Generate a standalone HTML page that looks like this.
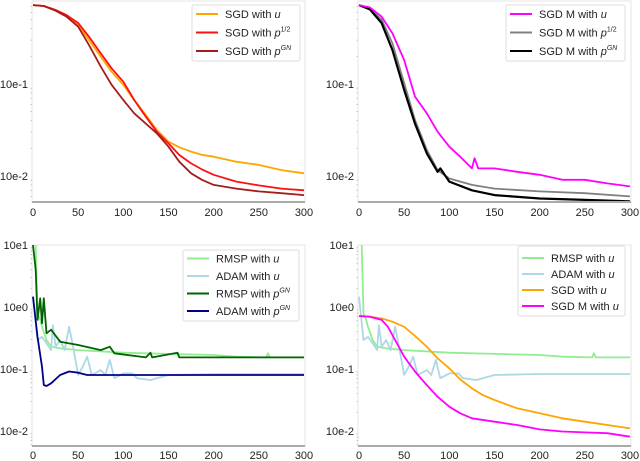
<!DOCTYPE html>
<html><head><meta charset="utf-8"><style>
html,body{margin:0;padding:0;background:#fff;}
svg{display:block;font-family:"Liberation Sans","DejaVu Sans",sans-serif;}
</style></head><body>
<svg id="chart" width="640" height="461" viewBox="0 0 640 461"></svg>
<script>
// ---- data ----
const xTicks = [0, 50, 100, 150, 200, 250, 300];
const topTickVals = [0.1, 0.01];
const topTickLabels = ["10e-1", "10e-2"];
const botTickVals = [10, 1, 0.1, 0.01];
const botTickLabels = ["10e1", "10e0", "10e-1", "10e-2"];

const tlSteps = [0,12,25,37,50,62,75,87,100,112,125,137,150,162,175,187,200,225,250,275,300];
const tlSgdU =   [0.72,0.705,0.637,0.548,0.44,0.30,0.198,0.136,0.098,0.067,0.046,0.0316,0.0236,0.0205,0.0184,0.017,0.0162,0.0143,0.0132,0.0116,0.0107];
const tlSgdP12 = [0.72,0.705,0.637,0.562,0.46,0.327,0.215,0.148,0.106,0.067,0.044,0.0303,0.0226,0.0169,0.0137,0.0118,0.0103,0.0087,0.0079,0.0073,0.0070];
const tlSgdGN =  [0.72,0.705,0.627,0.54,0.42,0.265,0.154,0.098,0.067,0.048,0.037,0.0291,0.0208,0.0143,0.0107,0.0091,0.0080,0.0073,0.0068,0.0065,0.0062];

const trMagSteps = [0,12,25,37,50,62,75,87,100,112,125,128,132,150,175,200,225,250,275,300];
const trSgdMU =    [0.72,0.68,0.54,0.356,0.182,0.073,0.048,0.0303,0.0208,0.0162,0.0121,0.0156,0.0121,0.0121,0.0111,0.0103,0.0091,0.0091,0.0083,0.0077];
const trGraySteps = [0,12,25,37,50,62,75,87,100,125,150,200,250,300];
const trSgdMP12 =   [0.72,0.663,0.50,0.277,0.102,0.0406,0.0192,0.0116,0.0094,0.0080,0.0073,0.0068,0.0065,0.0060];
const trBlackSteps = [0,12,25,37,50,62,75,87,90,100,125,150,200,250,300];
const trSgdMGN =     [0.72,0.648,0.46,0.234,0.086,0.037,0.0176,0.0111,0.0121,0.0087,0.0070,0.0062,0.0057,0.0055,0.0053];

const rmspUSteps = [0,3,5,8,10,15,20,30,50,100,150,200,225,258,260,262,300];
const rmspU =      [30,10,0.79,0.62,0.48,0.294,0.229,0.215,0.202,0.183,0.175,0.168,0.158,0.154,0.179,0.154,0.154];
const rmspGNSteps = [0,3,5,8,10,12,15,20,30,50,75,85,90,125,130,132,160,162,300];
const rmspGN =      [10,3.95,0.62,1.38,0.545,1.38,0.376,0.43,0.276,0.244,0.202,0.229,0.179,0.154,0.183,0.154,0.183,0.154,0.154];
const adamUSteps = [0,5,10,15,20,22,25,30,35,40,45,50,55,60,65,75,80,85,90,100,110,115,130,150,200,300];
const adamU =      [1.47,0.294,0.33,0.26,0.202,0.51,0.229,0.294,0.202,0.48,0.202,0.080,0.109,0.158,0.080,0.096,0.080,0.14,0.071,0.085,0.085,0.071,0.0665,0.080,0.083,0.083];
const adamGNSteps = [0,5,10,12,15,20,30,40,50,60,300];
const adamGN =      [1.47,0.33,0.109,0.0552,0.0532,0.0588,0.080,0.091,0.087,0.080,0.080];

const brSgdSteps = [0,12,25,37,50,62,75,87,100,112,125,137,150,175,200,225,250,275,300];
const brSgdU =     [0.716,0.697,0.656,0.58,0.48,0.34,0.229,0.149,0.1025,0.068,0.0488,0.038,0.0316,0.0232,0.0193,0.016,0.0141,0.0125,0.011];
const brMagSteps = [0,12,25,32,40,50,62,75,87,100,112,125,150,175,200,225,250,275,300];
const brSgdMU =    [0.716,0.697,0.62,0.48,0.294,0.158,0.091,0.055,0.0358,0.0247,0.0193,0.016,0.0141,0.0125,0.0106,0.0098,0.0095,0.0092,0.0081];

// ---- drawing ----
const NS = "http://www.w3.org/2000/svg";
const svg = document.getElementById("chart");
function mk(tag, attrs, parent) {
  const e = document.createElementNS(NS, tag);
  for (const k in attrs) e.setAttribute(k, attrs[k]);
  (parent || svg).appendChild(e);
  return e;
}
function makeScales(p) {
  const sx = v => p.x0 + (v / 300) * (p.x1 - p.x0);
  const sy = v => p.yA + (Math.log10(p.vA) - Math.log10(v)) / (Math.log10(p.vA) - Math.log10(p.vB)) * (p.yB - p.yA);
  return {sx, sy};
}
let clipId = 0;
function panel(p, name) {
  const g = mk("g", {});
  
  
  const {sx, sy} = makeScales(p);
  const fr = mk("rect", {x: p.left, y: p.top, width: p.right - p.left, height: p.bottom - p.top, fill: "none", stroke: "#e4e4e4", "stroke-width": 1}, g);
  
  
  const bs = mk("line", {x1: p.left, x2: p.right, y1: p.bottom, y2: p.bottom, stroke: "#aaa", "stroke-width": 2}, g);
  
  
  for (let d = Math.floor(Math.log10(p.vB)) - 1; d <= 1; d++) {
    for (let m = 2; m <= 9; m++) {
      const v = m * Math.pow(10, d);
      const y = sy(v);
      if (y > p.top && y < p.bottom) {
        const t = mk("line", {x1: p.left - 1.5, x2: p.left, y1: y, y2: y, stroke: "#bbb", "stroke-width": 0.8}, g);
        
        
      }
    }
  }
  if (p.yLabels) p.tickVals.forEach((v, i) => {
    const y = sy(v);
    const t = mk("text", {x: p.left - 4, y: y + 4, "text-anchor": "end", "font-size": 11, fill: "#222"}, g);
    t.textContent = p.tickLabels[i];
    
    
  });
  xTicks.forEach(v => {
    const t = mk("text", {x: sx(v), y: p.bottom + p.xlOff, "text-anchor": "middle", "font-size": 11, fill: "#222"}, g);
    t.textContent = v;
    
    
  });
  const cid = "clip" + (clipId++);
  const cp = mk("clipPath", {id: cid}, g);
  mk("rect", {x: p.left, y: p.top, width: p.right - p.left, height: p.bottom - p.top - 1}, cp);
  const lg = mk("g", {"clip-path": "url(#" + cid + ")"}, g);
  p.series.forEach(s => {
    const d = s.steps.map((st, i) => (i ? "L" : "M") + sx(st).toFixed(1) + "," + sy(s.vals[i]).toFixed(1)).join("");
    const path = mk("path", {d, fill: "none", stroke: s.color, "stroke-width": s.w || 1.8, "stroke-linejoin": "round"}, lg);
    
    
  });
  const L = p.legend;
  const box = mk("rect", {x: L.x, y: L.y, width: L.w, height: L.h, rx: 2, fill: "#fff", "fill-opacity": 0.85, stroke: "#ddd"}, g);
  
  
  p.series.slice().sort((a, b) => a.order - b.order).forEach((s, i) => {
    const y = L.y + L.first + i * L.gap;
    const eg = mk("g", {}, g);
    
    
    mk("line", {x1: L.x + 4, x2: L.x + 26, y1: y, y2: y, stroke: s.color, "stroke-width": 2}, eg);
    const t = mk("text", {x: L.x + 33, y: y + 4, "font-size": 11, fill: "#222"}, eg);
    t.innerHTML = s.label;
  });
}
const U = '<tspan font-style="italic">u</tspan>';
const P12 = '<tspan font-style="italic">p</tspan><tspan font-size="7" dy="-5">1/2</tspan>';
const PGN = '<tspan font-style="italic">p</tspan><tspan font-size="7" font-style="italic" dy="-5">GN</tspan>';

panel({left: 32, right: 305, top: 1, bottom: 202, xlOff: 14, x0: 33, x1: 304, yA: 84, vA: 0.1, yB: 176, vB: 0.01,
  yLabels: true, tickVals: topTickVals, tickLabels: topTickLabels,
  legend: {x: 192, y: 5, w: 108, h: 56, first: 9, gap: 18.5},
  series: [
    {id: "sgd-u", steps: tlSteps, vals: tlSgdU, color: "#ffa500", label: "SGD with " + U, order: 0},
    {id: "sgd-p12", steps: tlSteps, vals: tlSgdP12, color: "#ff1010", label: "SGD with " + P12, order: 1},
    {id: "sgd-pgn", steps: tlSteps, vals: tlSgdGN, color: "#a51c1c", label: "SGD with " + PGN, order: 2}
  ]}, "panel-top-left");

panel({left: 358, right: 631, top: 1, bottom: 202, xlOff: 14, x0: 359, x1: 630, yA: 84, vA: 0.1, yB: 176, vB: 0.01,
  yLabels: true, tickVals: topTickVals, tickLabels: topTickLabels,
  legend: {x: 506, y: 5, w: 119, h: 56, first: 9, gap: 18.5},
  series: [
    {id: "sgdm-p12", steps: trGraySteps, vals: trSgdMP12, color: "#808080", label: "SGD M with " + P12, order: 1},
    {id: "sgdm-pgn", steps: trBlackSteps, vals: trSgdMGN, color: "#000", label: "SGD M with " + PGN, order: 2, w: 2.2},
    {id: "sgdm-u", steps: trMagSteps, vals: trSgdMU, color: "#ff00ff", label: "SGD M with " + U, order: 0}
  ]}, "panel-top-right");

panel({left: 32, right: 305, top: 245, bottom: 446, xlOff: 13, x0: 33, x1: 304, yA: 245, vA: 10, yB: 431, vB: 0.01,
  yLabels: true, tickVals: botTickVals, tickLabels: botTickLabels,
  legend: {x: 183, y: 250, w: 116, h: 71, first: 8.5, gap: 17.5},
  series: [
    {id: "rmsp-u", steps: rmspUSteps, vals: rmspU, color: "#90ee90", label: "RMSP with " + U, order: 0},
    {id: "adam-u", steps: adamUSteps, vals: adamU, color: "#add8e6", label: "ADAM with " + U, order: 1},
    {id: "rmsp-pgn", steps: rmspGNSteps, vals: rmspGN, color: "#006400", label: "RMSP with " + PGN, order: 2},
    {id: "adam-pgn", steps: adamGNSteps, vals: adamGN, color: "#00008b", label: "ADAM with " + PGN, order: 3}
  ]}, "panel-bottom-left");

panel({left: 358, right: 631, top: 245, bottom: 446, xlOff: 13, x0: 359, x1: 630, yA: 245, vA: 10, yB: 431, vB: 0.01,
  yLabels: true, tickVals: botTickVals, tickLabels: botTickLabels,
  legend: {x: 518, y: 246, w: 107, h: 70, first: 12, gap: 16},
  series: [
    {id: "rmsp-u", steps: rmspUSteps, vals: rmspU, color: "#90ee90", label: "RMSP with " + U, order: 0},
    {id: "adam-u", steps: adamUSteps, vals: adamU, color: "#add8e6", label: "ADAM with " + U, order: 1},
    {id: "sgd-u", steps: brSgdSteps, vals: brSgdU, color: "#ffa500", label: "SGD with " + U, order: 2},
    {id: "sgdm-u", steps: brMagSteps, vals: brSgdMU, color: "#ff00ff", label: "SGD M with " + U, order: 3}
  ]}, "panel-bottom-right");
</script>
</body></html>
